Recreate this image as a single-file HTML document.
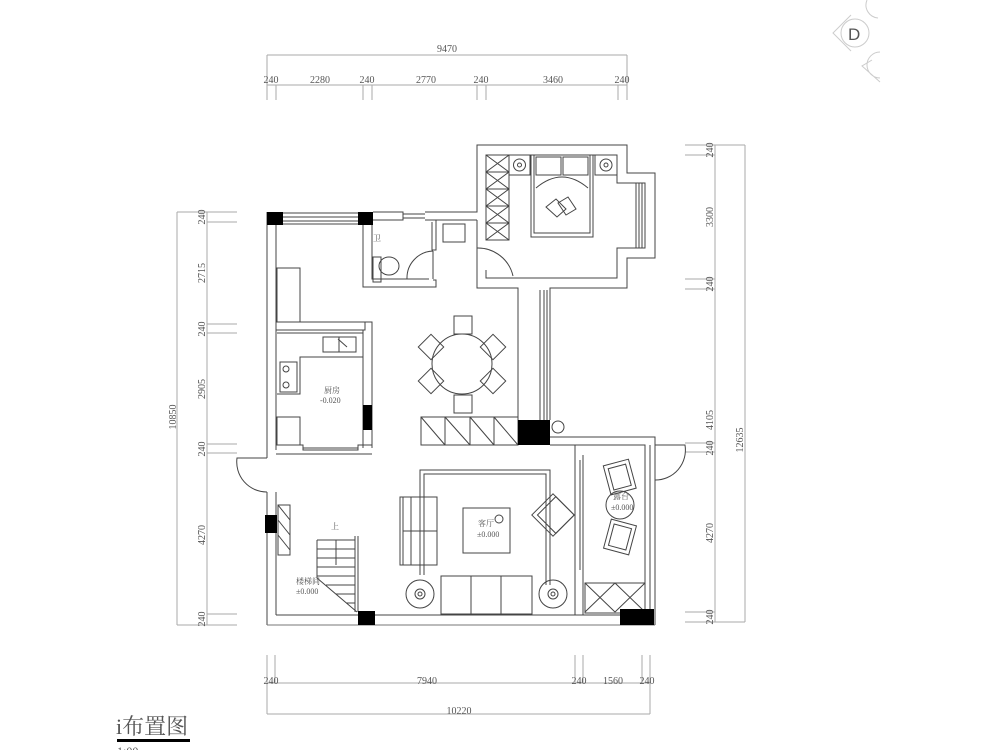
<!DOCTYPE html>
<html><head><meta charset="utf-8"><style>
html,body{margin:0;padding:0;background:#fff;}
svg{display:block;}
text{font-family:"Liberation Serif","Noto Serif CJK SC",serif;fill:#555;}
</style></head><body>
<svg width="1000" height="750" viewBox="0 0 1000 750" xmlns="http://www.w3.org/2000/svg">
<g stroke="#aaa" stroke-width="1" fill="none">
<line x1="267" y1="55" x2="627" y2="55"/>
<line x1="267" y1="85" x2="627" y2="85"/>
<g>
<line x1="267" y1="55" x2="267" y2="100"/><line x1="276" y1="85" x2="276" y2="100"/>
<line x1="363" y1="85" x2="363" y2="100"/><line x1="372" y1="85" x2="372" y2="100"/>
<line x1="477" y1="85" x2="477" y2="100"/><line x1="486" y1="85" x2="486" y2="100"/>
<line x1="618" y1="85" x2="618" y2="100"/><line x1="627" y1="55" x2="627" y2="100"/>
</g>
<line x1="267" y1="683" x2="650" y2="683"/>
<line x1="267" y1="714" x2="650" y2="714"/>
<line x1="267" y1="655" x2="267" y2="714"/><line x1="275" y1="655" x2="275" y2="683"/>
<line x1="575" y1="655" x2="575" y2="683"/><line x1="583" y1="655" x2="583" y2="683"/>
<line x1="642" y1="655" x2="642" y2="683"/><line x1="650" y1="655" x2="650" y2="714"/>
<line x1="177" y1="212" x2="177" y2="625"/>
<line x1="207" y1="212" x2="207" y2="625"/>
<line x1="177" y1="212" x2="237" y2="212"/><line x1="207" y1="222" x2="237" y2="222"/>
<line x1="207" y1="324" x2="237" y2="324"/><line x1="207" y1="333" x2="237" y2="333"/>
<line x1="207" y1="444" x2="237" y2="444"/><line x1="207" y1="453" x2="237" y2="453"/>
<line x1="207" y1="614" x2="237" y2="614"/><line x1="177" y1="625" x2="237" y2="625"/>
<line x1="715" y1="145" x2="715" y2="622"/>
<line x1="745" y1="145" x2="745" y2="622"/>
<line x1="685" y1="145" x2="745" y2="145"/><line x1="685" y1="155" x2="715" y2="155"/>
<line x1="685" y1="279" x2="715" y2="279"/><line x1="685" y1="289" x2="715" y2="289"/>
<line x1="685" y1="443" x2="715" y2="443"/><line x1="685" y1="452" x2="715" y2="452"/>
<line x1="685" y1="612" x2="715" y2="612"/><line x1="685" y1="622" x2="745" y2="622"/>
</g>
<g font-size="10" text-anchor="middle">
<text x="447" y="52">9470</text>
<text x="271" y="83">240</text><text x="320" y="83">2280</text><text x="367" y="83">240</text>
<text x="426" y="83">2770</text><text x="481" y="83">240</text><text x="553" y="83">3460</text><text x="622" y="83">240</text>
<text x="271" y="684">240</text><text x="427" y="684">7940</text><text x="579" y="684">240</text><text x="613" y="684">1560</text><text x="647" y="684">240</text>
<text x="459" y="714">10220</text>
<g transform="translate(205,217) rotate(-90)"><text>240</text></g>
<g transform="translate(205,273) rotate(-90)"><text>2715</text></g>
<g transform="translate(205,329) rotate(-90)"><text>240</text></g>
<g transform="translate(205,389) rotate(-90)"><text>2905</text></g>
<g transform="translate(205,449) rotate(-90)"><text>240</text></g>
<g transform="translate(205,535) rotate(-90)"><text>4270</text></g>
<g transform="translate(205,619) rotate(-90)"><text>240</text></g>
<g transform="translate(176,417) rotate(-90)"><text>10850</text></g>
<g transform="translate(713,150) rotate(-90)"><text>240</text></g>
<g transform="translate(713,217) rotate(-90)"><text>3300</text></g>
<g transform="translate(713,284) rotate(-90)"><text>240</text></g>
<g transform="translate(713,420) rotate(-90)"><text>4105</text></g>
<g transform="translate(713,448) rotate(-90)"><text>240</text></g>
<g transform="translate(713,533) rotate(-90)"><text>4270</text></g>
<g transform="translate(713,617) rotate(-90)"><text>240</text></g>
<g transform="translate(743,440) rotate(-90)"><text>12635</text></g>
</g>

<g stroke="#444" stroke-width="1" fill="none">
<line x1="267" y1="212" x2="267" y2="458"/><line x1="276" y1="225" x2="276" y2="450"/>
<line x1="267" y1="492" x2="267" y2="625"/><line x1="276" y1="492" x2="276" y2="615"/>
<line x1="267" y1="625" x2="655" y2="625" stroke="#777"/><line x1="276" y1="615" x2="645" y2="615"/>
<line x1="283" y1="213" x2="358" y2="213"/><line x1="283" y1="217" x2="358" y2="217"/><line x1="283" y1="221" x2="358" y2="221"/><line x1="283" y1="224" x2="358" y2="224"/>
<polyline points="373,212 403,212 403,220 373,220"/>
<line x1="403" y1="214" x2="425" y2="214"/><line x1="403" y1="218" x2="425" y2="218"/>
<polyline points="425,212 477,212 477,145 627,145 627,173 655,173 655,258 627,258 627,288 550,288 550,420"/>
<polyline points="425,220 477,220"/>
<polyline points="486,240 486,155 617,155 617,183 645,183 645,248 617,248 617,278 486,278 486,270"/>
<polyline points="477,220 477,288 518,288 518,420"/>
<line x1="540" y1="290" x2="540" y2="420"/><line x1="544" y1="290" x2="544" y2="420"/><line x1="547" y1="290" x2="547" y2="420"/>
<line x1="636" y1="183" x2="636" y2="248"/><line x1="639" y1="183" x2="639" y2="248"/><line x1="642" y1="183" x2="642" y2="248"/>
<rect x="486" y="155" width="23" height="85"/>
<path d="M486,172H509M486,189H509M486,206H509M486,223H509M486,155L509,172M509,155L486,172M486,172L509,189M509,172L486,189M486,189L509,206M509,189L486,206M486,206L509,223M509,206L486,223M486,223L509,240M509,223L486,240"/>
<rect x="531" y="155" width="62" height="82"/><rect x="534" y="155" width="56" height="78"/>
<rect x="536" y="157" width="25" height="18"/><rect x="563" y="157" width="25" height="18"/>
<path d="M536,188Q562,166 588,188"/>
<path d="M546,207l10,-8 10,10 -9,8z M558,203l10,-6 8,12 -10,6z"/>
<rect x="509" y="155" width="21" height="20"/><circle cx="519.5" cy="165" r="6"/><circle cx="519.5" cy="165" r="2"/>
<rect x="595" y="155" width="22" height="20"/><circle cx="606" cy="165" r="6"/><circle cx="606" cy="165" r="2"/>
<path d="M477,248L477,276M477,248A36,36 0 0 1 513,276"/>
<polyline points="363,225 363,287 436,287 436,280 433,280"/>
<polyline points="372,225 372,279 429,279"/>
<polyline points="432,222 432,250 436,250 436,220"/>
<path d="M433,279L433,251M433,251A27,27 0 0 0 407,279"/>
<rect x="443" y="224" width="22" height="18"/>
<rect x="373" y="257" width="8" height="25"/><ellipse cx="389" cy="266" rx="10" ry="9"/>
<polyline points="276,322 365,322 365,330 276,330"/>
<polyline points="365,322 372,322 372,448"/>
<line x1="363" y1="330" x2="363" y2="448"/>
<polyline points="276,445 303,445 303,450 358,450 358,445 372,445"/>
<line x1="276" y1="454" x2="372" y2="454"/>
<line x1="303" y1="448" x2="358" y2="448"/>
<rect x="277" y="268" width="23" height="54"/>
<polyline points="277,333 363,333"/>
<polyline points="277,394 300,394 300,357 363,357"/>
<rect x="323" y="337" width="33" height="15"/><line x1="339" y1="337" x2="339" y2="352"/><line x1="338" y1="339" x2="347" y2="347"/>
<rect x="280" y="362" width="17" height="30"/><circle cx="286" cy="369" r="3"/><circle cx="286" cy="385" r="3"/>
<rect x="277" y="417" width="23" height="28"/>
<circle cx="462" cy="364" r="30"/>
<rect x="454" y="316" width="18" height="18"/><rect x="454" y="395" width="18" height="18"/>
<g transform="rotate(-45 431 347)"><rect x="422" y="338" width="18" height="18"/></g>
<g transform="rotate(45 493 347)"><rect x="484" y="338" width="18" height="18"/></g>
<g transform="rotate(45 431 381)"><rect x="422" y="372" width="18" height="18"/></g>
<g transform="rotate(-45 493 381)"><rect x="484" y="372" width="18" height="18"/></g>
<rect x="421" y="417" width="97" height="28"/>
<path d="M445,417V445M470,417V445M494,417V445M421,417L445,445M445,417L470,445M470,417L494,445M494,417L518,445"/>
<circle cx="558" cy="427" r="6"/>
<polyline points="550,437 655,437 655,625"/>
<polyline points="550,445 645,445 645,615"/>
<line x1="575" y1="445" x2="575" y2="615"/><line x1="583" y1="455" x2="583" y2="615"/>
<line x1="580" y1="460" x2="580" y2="570"/>
<line x1="650" y1="445" x2="650" y2="612"/>
<rect x="585" y="583" width="60" height="30"/><path d="M585,583L615,612M615,583L585,612M615,583L645,612M645,583L615,612"/>
<g transform="rotate(-15 620 478)"><rect x="607" y="462" width="26" height="30"/><rect x="611" y="466" width="18" height="22"/></g>
<circle cx="620" cy="505" r="14"/>
<g transform="rotate(15 620 537)"><rect x="607" y="522" width="26" height="30"/><rect x="611" y="526" width="18" height="22"/></g>
<path d="M267,458H237A30,30 0 0 0 267,492"/>
<path d="M655,445H685A30,30 0 0 1 655,480"/>
<polyline points="420,575 420,470 550,470 550,585"/><polyline points="424,575 424,474 546,474 546,585"/>
<rect x="400" y="497" width="37" height="68"/><rect x="403" y="497" width="8" height="68"/><line x1="403" y1="531" x2="437" y2="531"/>
<rect x="463" y="508" width="47" height="45"/><circle cx="499" cy="519" r="4"/>
<rect x="441" y="576" width="91" height="38"/><line x1="471" y1="576" x2="471" y2="614"/><line x1="501" y1="576" x2="501" y2="614"/>
<circle cx="420" cy="594" r="14"/><circle cx="420" cy="594" r="5"/><circle cx="420" cy="594" r="2"/>
<circle cx="553" cy="594" r="14"/><circle cx="553" cy="594" r="5"/><circle cx="553" cy="594" r="2"/>
<g transform="rotate(45 553 515)"><rect x="538" y="500" width="30" height="30"/><rect x="542" y="500" width="26" height="26"/></g>
<polyline points="317,540 355,540"/>
<path d="M317,540V578L357,612M317,549H355M317,558H355M317,567H355M317,576H355M326,585H355M336,594H355M346,603H355"/>
<line x1="355" y1="536" x2="355" y2="612"/><line x1="358" y1="536" x2="358" y2="612"/>
<path d="M336,540V565" stroke="#444"/>
<rect x="278" y="505" width="12" height="50"/><path d="M278,505L290,520M278,520L290,535M278,535L290,550"/>
</g>
<g fill="#000">
<rect x="267" y="212" width="16" height="13"/><rect x="358" y="212" width="15" height="13"/>
<rect x="363" y="405" width="9" height="25"/>
<rect x="518" y="420" width="32" height="25"/>
<rect x="265" y="515" width="12" height="18"/>
<rect x="358" y="611" width="17" height="14"/>
<rect x="620" y="609" width="34" height="16"/>
</g>
<g font-size="8" fill="#333">
<text x="324" y="393">厨房</text><text x="320" y="403" fill="#888">-0.020</text>
<text x="478" y="526">客厅</text><text x="477" y="537" fill="#888">±0.000</text>
<text x="613" y="499">露台</text><text x="611" y="510" fill="#888">±0.000</text>
<text x="331" y="529">上</text>
<text x="296" y="584">楼梯间</text><text x="296" y="594" fill="#888">±0.000</text>
<text x="373" y="241">卫</text>
</g>
<g stroke="#ccc" fill="none">
<circle cx="855" cy="33" r="14"/><path d="M851,15L833,33L851,51"/>
<path d="M867,0A13,13 0 0 0 878,18"/><path d="M880,52A13,13 0 0 0 880,78M872,60L862,66L880,82"/>
</g>
<text x="848" y="40" font-size="17" fill="#ccc" style="font-family:'Liberation Sans',sans-serif">D</text>
<text x="116" y="734" font-size="22" fill="#111">i布置图</text>
<rect x="117" y="739" width="73" height="3" fill="#000"/>
<text x="117" y="755" font-size="12" fill="#333">1:00</text>
</svg>
</body></html>
